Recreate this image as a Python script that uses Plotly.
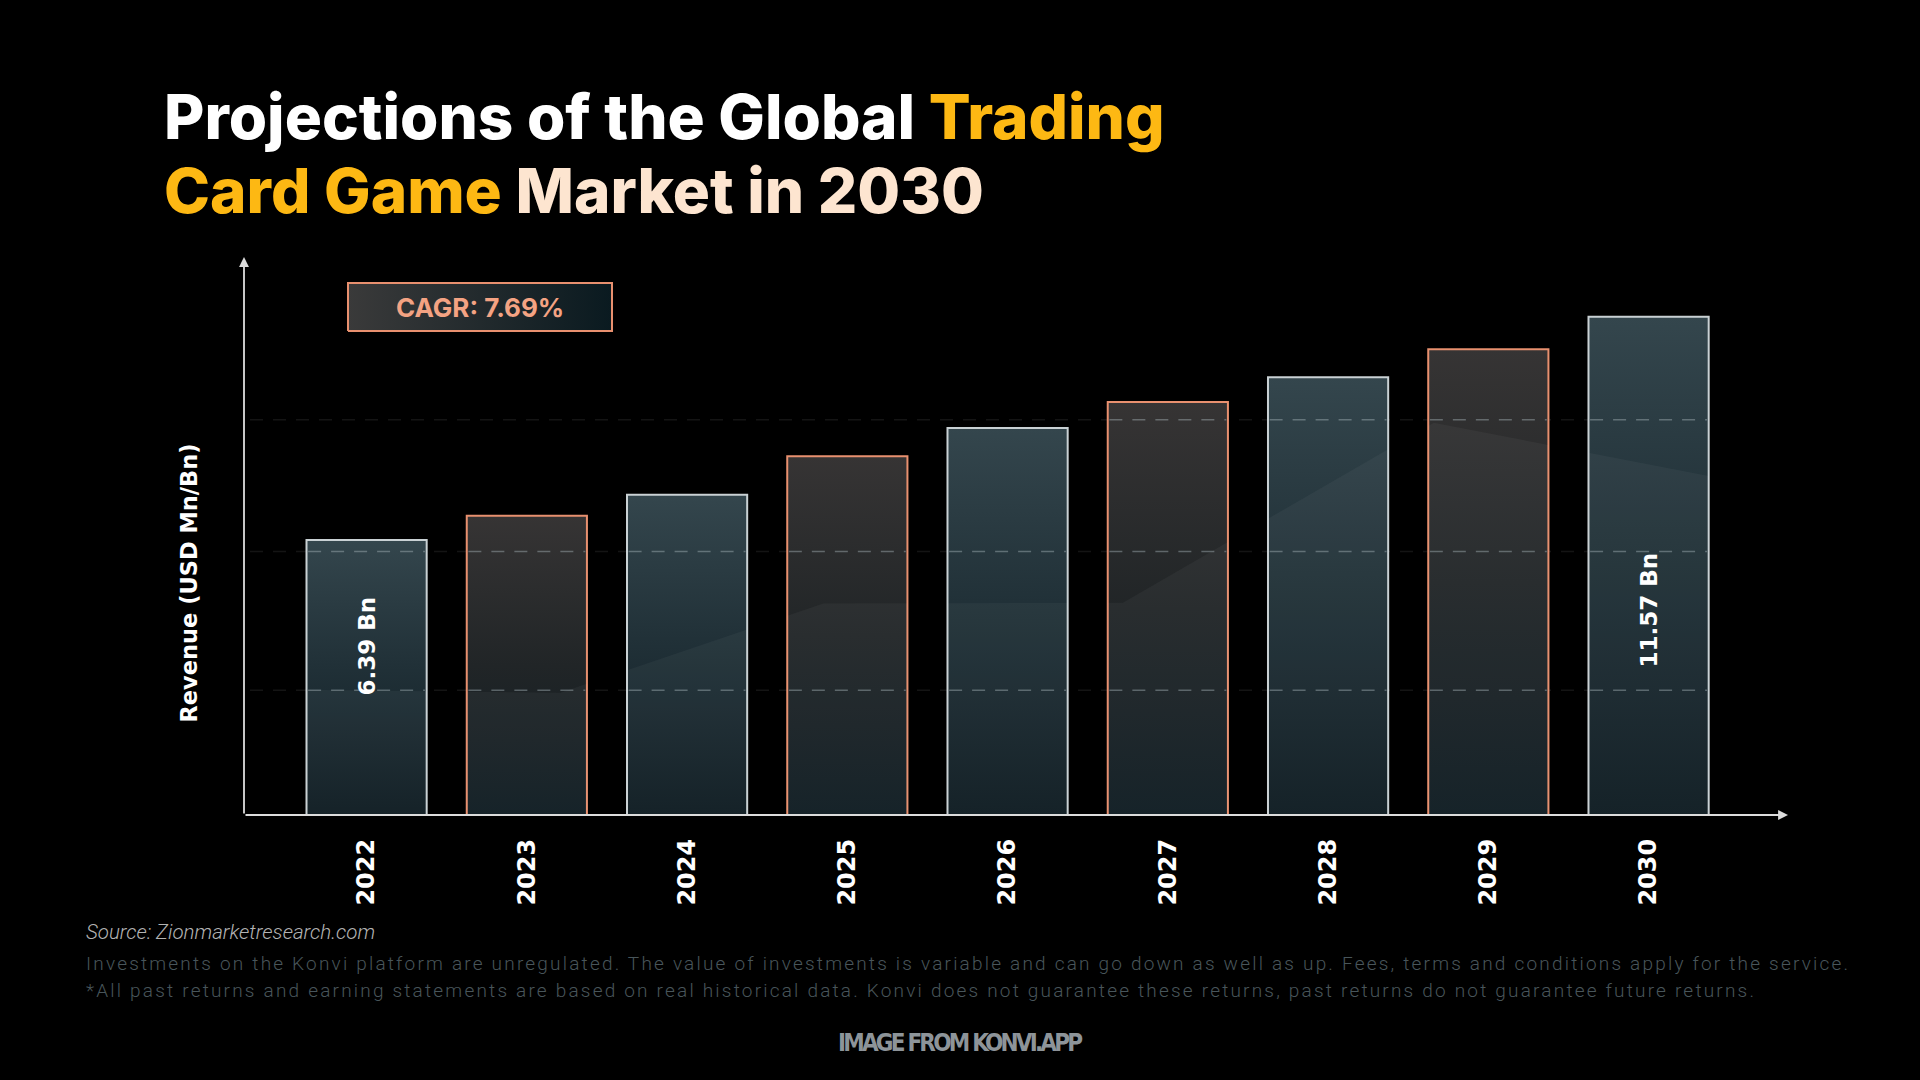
import numpy as np
import plotly.graph_objects as go

# --- data ---
years = ["2022", "2023", "2024", "2025", "2026", "2027", "2028", "2029", "2030"]
revenue_bn = [6.39, 6.95, 7.44, 8.33, 8.99, 9.59, 10.17, 10.82, 11.57]
bar_kind = ["teal", "salmon", "teal", "salmon", "teal", "salmon", "teal", "salmon", "teal"]
value_labels = {0: "6.39 Bn", 8: "11.57 Bn"}
cagr_text = "CAGR: 7.69%"
grid_levels = [2.9, 6.12, 9.18]

# faint trend silhouette that only shows inside the bars (x in bar index, y in Bn)
backdrop_x = [-0.45, 1.21, 2.85, 4.72, 6.66, 8.45]
backdrop_y = [2.91, 2.84, 4.91, 4.93, 9.11, 7.82]

source_text = "Source: Zionmarketresearch.com"
disclaimer_1 = ("Investments on the Konvi platform are unregulated. The value of investments is variable "
                "and can go down as well as up. Fees, terms and conditions apply for the service.")
disclaimer_2 = ("*All past returns and earning statements are based on real historical data. Konvi does "
                "not guarantee these returns, past returns do not guarantee future returns.")
watermark = "IMAGE FROM KONVI.APP"

# --- geometry ---
W, H = 1920, 1080
L, R, T, B = 244, 132, 257, 265
X_RANGE = [-0.765, 8.87]
Y_RANGE = [0, 12.96]
BAR_W = 0.75

BG = "#000000"
GOLD = "#FDB813"
CREAM = "#FDE5D0"
SALMON = "#E8906F"
LIGHT = "#C9D1D4"

styles = {
    "teal": dict(border=LIGHT, scale=[[0, "#0c1a20"], [0.55, "#213138"], [1, "#34464d"]]),
    "salmon": dict(border=SALMON, scale=[[0, "#0d1b21"], [0.5, "#212527"], [1, "#363434"]]),
}


def px_x(px):
    return X_RANGE[0] + (px - L) / (W - L - R) * (X_RANGE[1] - X_RANGE[0])


def px_y(py):
    return Y_RANGE[0] + (H - B - py) / (H - T - B) * (Y_RANGE[1] - Y_RANGE[0])


def paper_x(px):
    return (px - L) / (W - L - R)


def paper_y(py):
    return (H - B - py) / (H - T - B)


fig = go.Figure()

# bars drawn as filled polygons so they can carry a vertical gradient
for i, (v, kind) in enumerate(zip(revenue_bn, bar_kind)):
    x0, x1 = i - BAR_W / 2, i + BAR_W / 2
    st = styles[kind]
    fig.add_trace(go.Scatter(
        x=[x0, x1, x1, x0, x0], y=[0, 0, v, v, 0],
        mode="lines", fill="toself",
        fillgradient=dict(type="vertical", colorscale=st["scale"]),
        line=dict(color=st["border"], width=2),
        hoverinfo="skip", showlegend=False,
    ))
    # lighter silhouette inside the bar
    inner = [bx for bx in backdrop_x if x0 < bx < x1]
    xs = [x0] + inner + [x1]
    ys = list(np.minimum(np.interp(xs, backdrop_x, backdrop_y), v))
    fig.add_trace(go.Scatter(
        x=[x0] + xs + [x1, x0], y=[0] + ys + [0, 0],
        mode="lines", fill="toself", fillcolor="rgba(255,255,255,0.04)",
        line=dict(width=0), hoverinfo="skip", showlegend=False,
    ))

# CAGR badge
bx0, bx1, by0, by1 = px_x(348), px_x(612), px_y(331), px_y(283)
fig.add_trace(go.Scatter(
    x=[bx0, bx1, bx1, bx0, bx0], y=[by0, by0, by1, by1, by0],
    mode="lines", fill="toself",
    fillgradient=dict(type="horizontal", colorscale=[[0, "#3a3a3a"], [1, "#0a1a20"]]),
    line=dict(color=SALMON, width=2),
    hoverinfo="skip", showlegend=False,
))

# dashed guide lines: dim across the chart, brighter where they cross a bar
last_edge = len(years) - 1 + BAR_W / 2
for lvl in grid_levels:
    fig.add_shape(type="line", x0=px_x(250), x1=last_edge, y0=lvl, y1=lvl, layer="below",
                  line=dict(color="rgba(255,255,255,0.08)", width=1.5, dash="13px,10px"))
    for i, v in enumerate(revenue_bn):
        if lvl < v:
            fig.add_shape(type="line", x0=i - BAR_W / 2 + 0.01, x1=i + BAR_W / 2 - 0.01,
                          y0=lvl, y1=lvl, layer="above",
                          line=dict(color="rgba(175,188,193,0.42)", width=1.5, dash="13px,10px"))

annotations = []

# axis arrows
annotations.append(dict(x=X_RANGE[0], y=Y_RANGE[1], ax=X_RANGE[0], ay=0, xref="x", yref="y",
                        axref="x", ayref="y", text="", showarrow=True, arrowhead=2,
                        arrowsize=1.1, arrowwidth=1.8, arrowcolor="#dcdcdc", standoff=0))
annotations.append(dict(x=X_RANGE[1], y=0, ax=X_RANGE[0], ay=0, xref="x", yref="y",
                        axref="x", ayref="y", text="", showarrow=True, arrowhead=2,
                        arrowsize=1.1, arrowwidth=1.8, arrowcolor="#dcdcdc", standoff=0))

# title
title_font = dict(family="Inter, sans-serif", size=62, weight=800)
annotations.append(dict(
    text=f"<span style='color:#FFFFFF'>Projections of the Global </span><span style='color:{GOLD}'>Trading</span>",
    x=paper_x(162), y=paper_y(116), xref="paper", yref="paper", xanchor="left", yanchor="middle",
    showarrow=False, font=title_font))
annotations.append(dict(
    text=f"<span style='color:{GOLD}'>Card Game</span><span style='color:{CREAM}'> Market in 2030</span>",
    x=paper_x(162), y=paper_y(190), xref="paper", yref="paper", xanchor="left", yanchor="middle",
    showarrow=False, font=title_font))

# CAGR text
annotations.append(dict(text=cagr_text, x=px_x(480), y=px_y(307), xref="x", yref="y",
                        xanchor="center", yanchor="middle", showarrow=False,
                        font=dict(family="Inter, sans-serif", size=26, weight=700, color="#F4A383")))

# y-axis title
annotations.append(dict(text="Revenue (USD Mn/Bn)", x=paper_x(188.5), y=paper_y(583),
                        xref="paper", yref="paper", xanchor="center", yanchor="middle",
                        textangle=-90, showarrow=False,
                        font=dict(family="DejaVu Sans, sans-serif", size=22.5, weight=700,
                                  color="#FFFFFF")))

# value labels inside first and last bars
label_py = {0: 646, 8: 610}
for i, txt in value_labels.items():
    annotations.append(dict(text=txt, x=i, y=px_y(label_py[i]), xref="x", yref="y",
                            xanchor="center", yanchor="middle", textangle=-90, showarrow=False,
                            font=dict(family="DejaVu Sans, sans-serif", size=23, weight=700,
                                      color="#FFFFFF")))

# footer
annotations.append(dict(text=source_text, x=paper_x(84), y=paper_y(932), xref="paper", yref="paper",
                        xanchor="left", yanchor="middle", showarrow=False,
                        font=dict(family="Roboto, sans-serif", size=20.5, style="italic",
                                  weight=300, color="#B3B3B3")))
for txt, py in [(disclaimer_1, 963), (disclaimer_2, 991)]:
    annotations.append(dict(text=f"<span style='letter-spacing:2.2px'>{txt}</span>",
                            x=paper_x(84), y=paper_y(py), xref="paper", yref="paper",
                            xanchor="left", yanchor="middle", showarrow=False,
                            font=dict(family="Roboto, sans-serif", size=19, weight=300,
                                      color="#48555A")))
annotations.append(dict(text=f"<span style='letter-spacing:-2.8px'>{watermark}</span>",
                        x=paper_x(960), y=paper_y(1043), xref="paper", yref="paper",
                        xanchor="center", yanchor="middle", showarrow=False,
                        font=dict(family="DejaVu Sans Condensed, sans-serif",
                                  size=24, weight=700, color="#8D9499")))

fig.update_layout(
    width=W, height=H,
    margin=dict(l=L, r=R, t=T, b=B),
    paper_bgcolor=BG, plot_bgcolor=BG,
    showlegend=False,
    annotations=annotations,
    xaxis=dict(range=X_RANGE, tickmode="array", tickvals=list(range(len(years))), ticktext=years,
               tickangle=-90, ticks="", showgrid=False, zeroline=False, showline=False,
               ticklabelstandoff=18, fixedrange=True,
               tickfont=dict(family="DejaVu Sans, sans-serif", size=24, weight=700, color="#FFFFFF")),
    yaxis=dict(range=Y_RANGE, showgrid=False, zeroline=False, showline=False,
               showticklabels=False, ticks="", fixedrange=True),
)

fig.write_html("out.html", config={"displayModeBar": False},
               post_script="document.body.style.margin='0';document.body.style.background='#000';")
